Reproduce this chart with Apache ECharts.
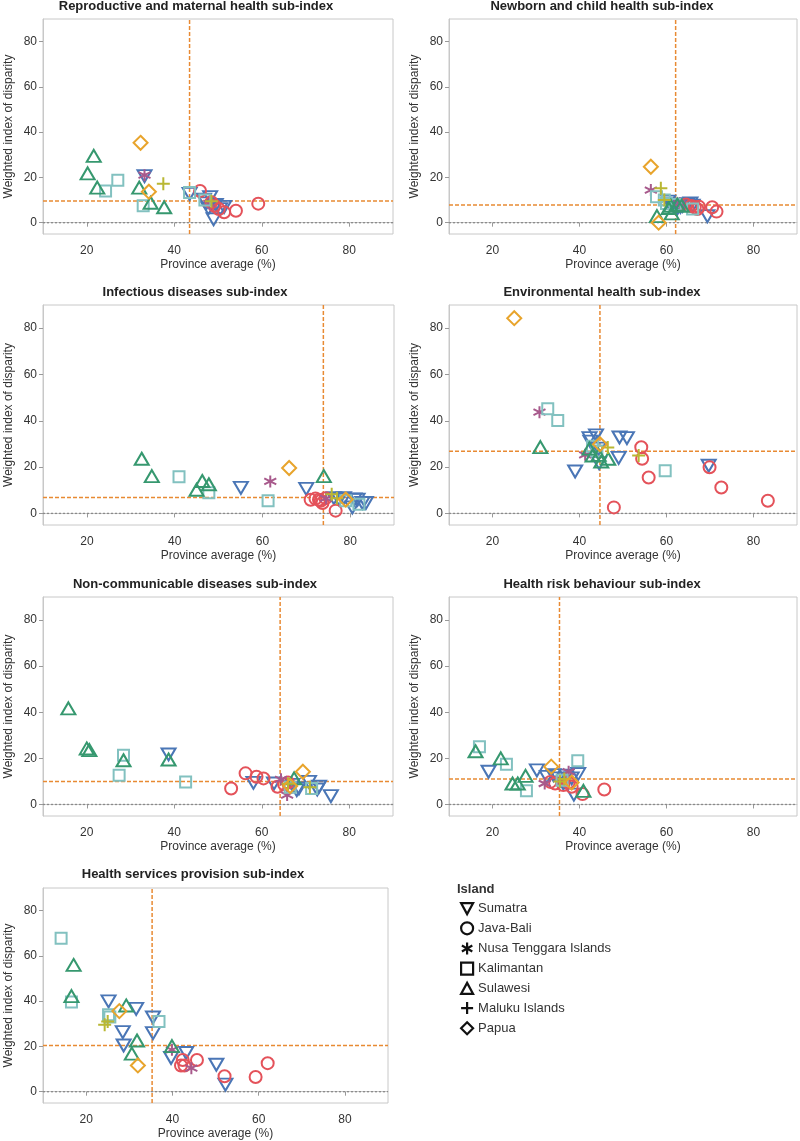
<!DOCTYPE html>
<html>
<head>
<meta charset="utf-8">
<script src="https://cdn.jsdelivr.net/npm/echarts@6/dist/echarts.min.js"></script>
<style>html,body{margin:0;padding:0;background:#fff}#c{width:800px;height:1141px}</style>
</head>
<body>
<div id="c"></div>
<script>
// ---- data ----
const islands = ['Sumatra','Java-Bali','Nusa Tenggara Islands','Kalimantan','Sulawesi','Maluku Islands','Papua'];
const panelTitles = ['Reproductive and maternal health sub-index','Newborn and child health sub-index','Infectious diseases sub-index','Environmental health sub-index','Non-communicable diseases sub-index','Health risk behaviour sub-index','Health services provision sub-index'];
const meanX = [43.5, 62.1, 73.9, 44.7, 64.2, 35.4, 35.3];
const meanY = [9.6, 7.8, 6.9, 26.8, 10.0, 11.1, 20.4];
const xTicks = [20, 40, 60, 80];
const yTicks = [0, 20, 40, 60, 80];

const repro = {
  'Sumatra': [[33.2,20.6],[43.5,12.7],[46.8,10.2],[48.2,11.3],[47.3,8.5],[47.8,6.3],[49.0,1.5],[49.5,7.8],[50.5,6.0],[51.4,7.0]],
  'Java-Bali': [[45.9,14.0],[48.5,9.0],[49.2,7.5],[50.2,6.0],[51.4,4.6],[54.1,5.3],[59.2,8.4]],
  'Nusa Tenggara Islands': [[33.2,21.0],[48.0,8.5]],
  'Kalimantan': [[24.3,14.0],[27.1,18.7],[32.9,7.5],[43.5,13.3],[47.0,10.0]],
  'Sulawesi': [[20.2,21.8],[21.6,29.5],[22.4,15.5],[32.0,15.5],[34.6,8.8],[37.7,6.8]],
  'Maluku Islands': [[37.5,17.2],[48.5,9.5]],
  'Papua': [[32.3,35.3],[34.2,13.7]]
};
const newborn = {
  'Sumatra': [[60.4,9.3],[61.0,8.0],[62.5,6.3],[63.2,7.0],[63.7,7.4],[64.8,8.2],[65.5,8.5],[66.0,7.5],[61.5,7.5],[69.4,2.9]],
  'Java-Bali': [[65.7,7.4],[66.5,6.8],[67.1,6.0],[70.5,6.8],[71.5,4.9],[64.5,8.0],[67.5,7.0]],
  'Nusa Tenggara Islands': [[56.4,14.4],[63.0,8.5]],
  'Kalimantan': [[57.7,11.5],[59.5,10.0],[60.0,8.5],[66.0,6.0],[62.0,8.0]],
  'Sulawesi': [[57.8,2.9],[61.2,4.1],[61.0,7.5],[62.5,8.0],[60.5,6.5],[63.5,7.5]],
  'Maluku Islands': [[58.7,15.2],[59.5,10.0]],
  'Papua': [[56.4,24.7],[58.2,0.0]]
};
const infectious = {
  'Sumatra': [[55.1,11.0],[70.0,10.6],[76.3,6.6],[77.5,6.0],[78.6,6.6],[80.5,2.6],[81.0,6.0],[81.7,5.9],[82.8,4.5],[83.6,4.5]],
  'Java-Bali': [[71.0,5.9],[72.1,6.4],[72.9,5.9],[73.7,4.5],[74.4,6.6],[76.7,1.2],[73.3,5.5]],
  'Nusa Tenggara Islands': [[61.8,13.8],[74.5,6.5]],
  'Kalimantan': [[41.0,15.8],[47.8,8.9],[61.3,5.5],[79.0,5.5],[82.0,4.0]],
  'Sulawesi': [[32.5,23.6],[34.8,16.1],[45.0,10.2],[46.3,14.0],[47.8,12.6],[74.0,16.1]],
  'Maluku Islands': [[75.8,8.3],[77.0,6.5]],
  'Papua': [[66.1,19.6],[79.0,6.0]]
};
const environmental = {
  'Sumatra': [[39.0,18.1],[42.3,32.5],[43.8,33.7],[42.5,31.0],[44.4,28.0],[44.5,21.7],[49.0,24.0],[49.2,32.8],[50.9,32.5],[69.7,20.6]],
  'Java-Bali': [[47.9,2.6],[54.2,28.6],[54.4,23.6],[55.9,15.5],[69.9,19.9],[72.6,11.2],[83.3,5.5]],
  'Nusa Tenggara Islands': [[30.8,43.7],[41.3,25.3]],
  'Kalimantan': [[32.7,45.2],[35.0,40.1],[59.7,18.4],[43.0,29.0],[44.0,27.0]],
  'Sulawesi': [[31.0,28.6],[42.3,28.0],[43.0,25.0],[44.4,25.3],[45.0,22.4],[46.6,23.6]],
  'Maluku Islands': [[46.5,28.5],[53.6,25.0]],
  'Papua': [[25.0,84.3],[44.7,29.9]]
};
const noncomm = {
  'Sumatra': [[38.7,21.7],[58.1,9.4],[62.8,9.1],[68.0,6.2],[68.5,7.0],[70.8,9.8],[72.7,6.5],[73.1,7.7],[75.8,3.6],[67.0,8.5]],
  'Java-Bali': [[53.0,6.9],[56.3,13.5],[58.8,12.0],[60.4,11.3],[63.6,7.7],[65.1,8.8],[66.0,9.5]],
  'Nusa Tenggara Islands': [[64.4,10.9],[65.8,4.1]],
  'Kalimantan': [[27.4,12.7],[28.4,21.4],[42.6,9.7],[71.4,6.9],[66.5,7.5]],
  'Sulawesi': [[15.8,41.7],[20.0,24.3],[20.6,23.6],[28.4,19.2],[38.7,19.5],[67.4,11.3]],
  'Maluku Islands': [[66.0,9.0],[71.0,7.5]],
  'Papua': [[69.4,14.2],[66.5,8.0]]
};
const riskBehaviour = {
  'Sumatra': [[19.1,14.2],[30.2,14.8],[32.5,12.0],[34.0,12.7],[35.2,11.3],[36.3,9.1],[37.0,12.5],[38.2,11.3],[39.7,13.2],[38.7,4.3]],
  'Java-Bali': [[33.3,9.8],[34.4,9.1],[36.3,8.4],[37.5,9.5],[38.2,7.7],[40.7,4.5],[45.7,6.5]],
  'Nusa Tenggara Islands': [[32.0,9.1],[37.5,14.2]],
  'Kalimantan': [[17.0,25.0],[23.2,17.5],[27.8,5.9],[39.6,19.0],[36.0,10.5]],
  'Sulawesi': [[16.1,23.1],[21.9,20.0],[24.6,9.1],[25.8,9.1],[27.6,12.4],[40.9,5.9]],
  'Maluku Islands': [[36.5,11.0],[35.5,10.0]],
  'Papua': [[33.5,16.4],[38.2,9.5]]
};
const services = {
  'Sumatra': [[25.2,39.9],[28.5,26.3],[28.7,20.4],[31.6,36.6],[35.5,32.8],[35.5,25.9],[39.7,14.9],[43.2,17.1],[50.2,11.9],[52.3,3.1]],
  'Java-Bali': [[42.0,11.6],[42.8,11.6],[42.4,14.0],[45.7,14.0],[52.1,6.8],[59.3,6.5],[62.1,12.6]],
  'Nusa Tenggara Islands': [[39.9,18.5],[44.4,10.4]],
  'Kalimantan': [[14.2,67.8],[16.6,39.6],[25.2,34.0],[36.9,31.0],[25.5,33.0]],
  'Sulawesi': [[16.6,42.2],[17.1,56.0],[29.3,38.1],[30.6,16.8],[31.8,22.6],[39.9,20.1]],
  'Maluku Islands': [[24.3,29.6],[25.0,31.0]],
  'Papua': [[27.7,35.6],[32.0,11.6]]
};
const panels = [repro, newborn, infectious, environmental, noncomm, riskBehaviour, services];

// ---- styling ----
const X_MIN = 10, X_MAX = 90, Y_MIN = -5, Y_MAX = 90;
const colors = {
  'Sumatra': '#4a76b6',
  'Java-Bali': '#e4525a',
  'Nusa Tenggara Islands': '#a85a8c',
  'Kalimantan': '#82c1c0',
  'Sulawesi': '#36986f',
  'Maluku Islands': '#b9b733',
  'Papua': '#e8a42c'
};
const STAR = 'path://M0,-10L0,10M-8.66,-5L8.66,5M-8.66,5L8.66,-5';
const PLUS = 'path://M0,-10L0,10M-10,0L10,0';
const symbols = {
  'Sumatra': {symbol: 'triangle', rotate: 180, size: [14, 12]},
  'Java-Bali': {symbol: 'circle', rotate: 0, size: 12},
  'Nusa Tenggara Islands': {symbol: STAR, rotate: 0, size: 12},
  'Kalimantan': {symbol: 'rect', rotate: 0, size: 11},
  'Sulawesi': {symbol: 'triangle', rotate: 0, size: [14, 12]},
  'Maluku Islands': {symbol: PLUS, rotate: 0, size: 13},
  'Papua': {symbol: 'diamond', rotate: 0, size: 14}
};
const legendIcons = {
  'Sumatra': 'path://M0,0L12,0L6,11Z',
  'Java-Bali': 'circle',
  'Nusa Tenggara Islands': STAR,
  'Kalimantan': 'rect',
  'Sulawesi': 'path://M6,0L12,11L0,11Z',
  'Maluku Islands': PLUS,
  'Papua': 'diamond'
};

const grids = [
  {left: 43, top: 19, width: 350, height: 215},
  {left: 449, top: 19, width: 348, height: 215},
  {left: 43, top: 305, width: 351, height: 220},
  {left: 449, top: 305, width: 348, height: 220},
  {left: 43, top: 597, width: 350, height: 219},
  {left: 449, top: 597, width: 348, height: 219},
  {left: 43, top: 888, width: 345, height: 215}
];
const titleTops = [0, 0, 286, 286, 578, 578, 868];
const titleCenters = [196, 602, 195, 602, 195, 602, 193];
const FONT = 'Liberation Sans, Arial, sans-serif';
const ORANGE = '#e88a33';

const option = {
  animation: false,
  backgroundColor: '#fff',
  title: panelTitles.map((t, i) => ({
    text: t, left: titleCenters[i], top: titleTops[i], textAlign: 'center', padding: 0,
    textStyle: {fontSize: 13, fontWeight: 'bold', color: '#222', fontFamily: FONT}
  })).concat([{text: 'Island', left: 457, top: 883, padding: 0,
    textStyle: {fontSize: 13, fontWeight: 'bold', color: '#333', fontFamily: FONT}}]),
  grid: grids.map(g => Object.assign({show: true, borderColor: '#c8c8c8', borderWidth: 1, backgroundColor: '#fff'}, g)),
  xAxis: grids.map((g, i) => ({
    type: 'value', gridIndex: i, min: X_MIN, max: X_MAX,
    name: 'Province average (%)', nameLocation: 'middle', nameGap: 25,
    nameTextStyle: {fontSize: 12, color: '#333', fontFamily: FONT},
    axisLine: {show: true, lineStyle: {color: '#c8c8c8'}},
    axisTick: {show: true, length: 4, lineStyle: {color: '#999'}, customValues: xTicks},
    axisLabel: {fontSize: 12, color: '#333', margin: 11, fontFamily: FONT, customValues: xTicks},
    splitLine: {show: false}
  })),
  yAxis: grids.map((g, i) => ({
    type: 'value', gridIndex: i, min: Y_MIN, max: Y_MAX,
    name: 'Weighted index of disparity', nameLocation: 'middle', nameGap: 28,
    nameTextStyle: {fontSize: 12, color: '#333', fontFamily: FONT},
    axisLine: {show: true, lineStyle: {color: '#c8c8c8'}},
    axisTick: {show: true, length: 4, lineStyle: {color: '#999'}, customValues: yTicks},
    axisLabel: {fontSize: 12, color: '#333', margin: 6, fontFamily: FONT, customValues: yTicks},
    splitLine: {show: false}
  })),
  legend: {
    orient: 'vertical', left: 460, top: 902, padding: 0, itemWidth: 12, itemHeight: 12, itemGap: 6,
    textStyle: {fontSize: 13, color: '#333', fontFamily: FONT},
    selectedMode: false,
    data: islands.map(n => ({
      name: n, icon: legendIcons[n],
      itemStyle: {color: 'rgba(0,0,0,0)', borderColor: '#111', borderWidth: 2.2}
    }))
  },
  series: []
};

function refLine(pi, data, color, dash, width) {
  return {
    type: 'line', xAxisIndex: pi, yAxisIndex: pi, data: data, silent: true,
    symbol: 'none', z: 1,
    lineStyle: {color: color, type: dash, width: width},
    emphasis: {disabled: true}
  };
}

panels.forEach((panel, pi) => {
  option.series.push(refLine(pi, [[X_MIN, 0], [X_MAX, 0]], '#8a8a8a', [2, 2], 1.3));
  option.series.push(refLine(pi, [[X_MIN, meanY[pi]], [X_MAX, meanY[pi]]], ORANGE, [4, 2], 1.5));
  option.series.push(refLine(pi, [[meanX[pi], Y_MIN], [meanX[pi], Y_MAX]], ORANGE, [4, 2], 1.5));
  islands.forEach(n => {
    const s = symbols[n];
    option.series.push({
      name: n, type: 'scatter', xAxisIndex: pi, yAxisIndex: pi, z: 3,
      data: panel[n], symbol: s.symbol, symbolSize: s.size, symbolRotate: s.rotate,
      itemStyle: {color: 'rgba(0,0,0,0)', borderColor: colors[n], borderWidth: 2, opacity: 1},
      emphasis: {disabled: true}
    });
  });
});

const chart = echarts.init(document.getElementById('c'), null, {renderer: 'canvas'});
chart.setOption(option);
</script>
</body>
</html>
